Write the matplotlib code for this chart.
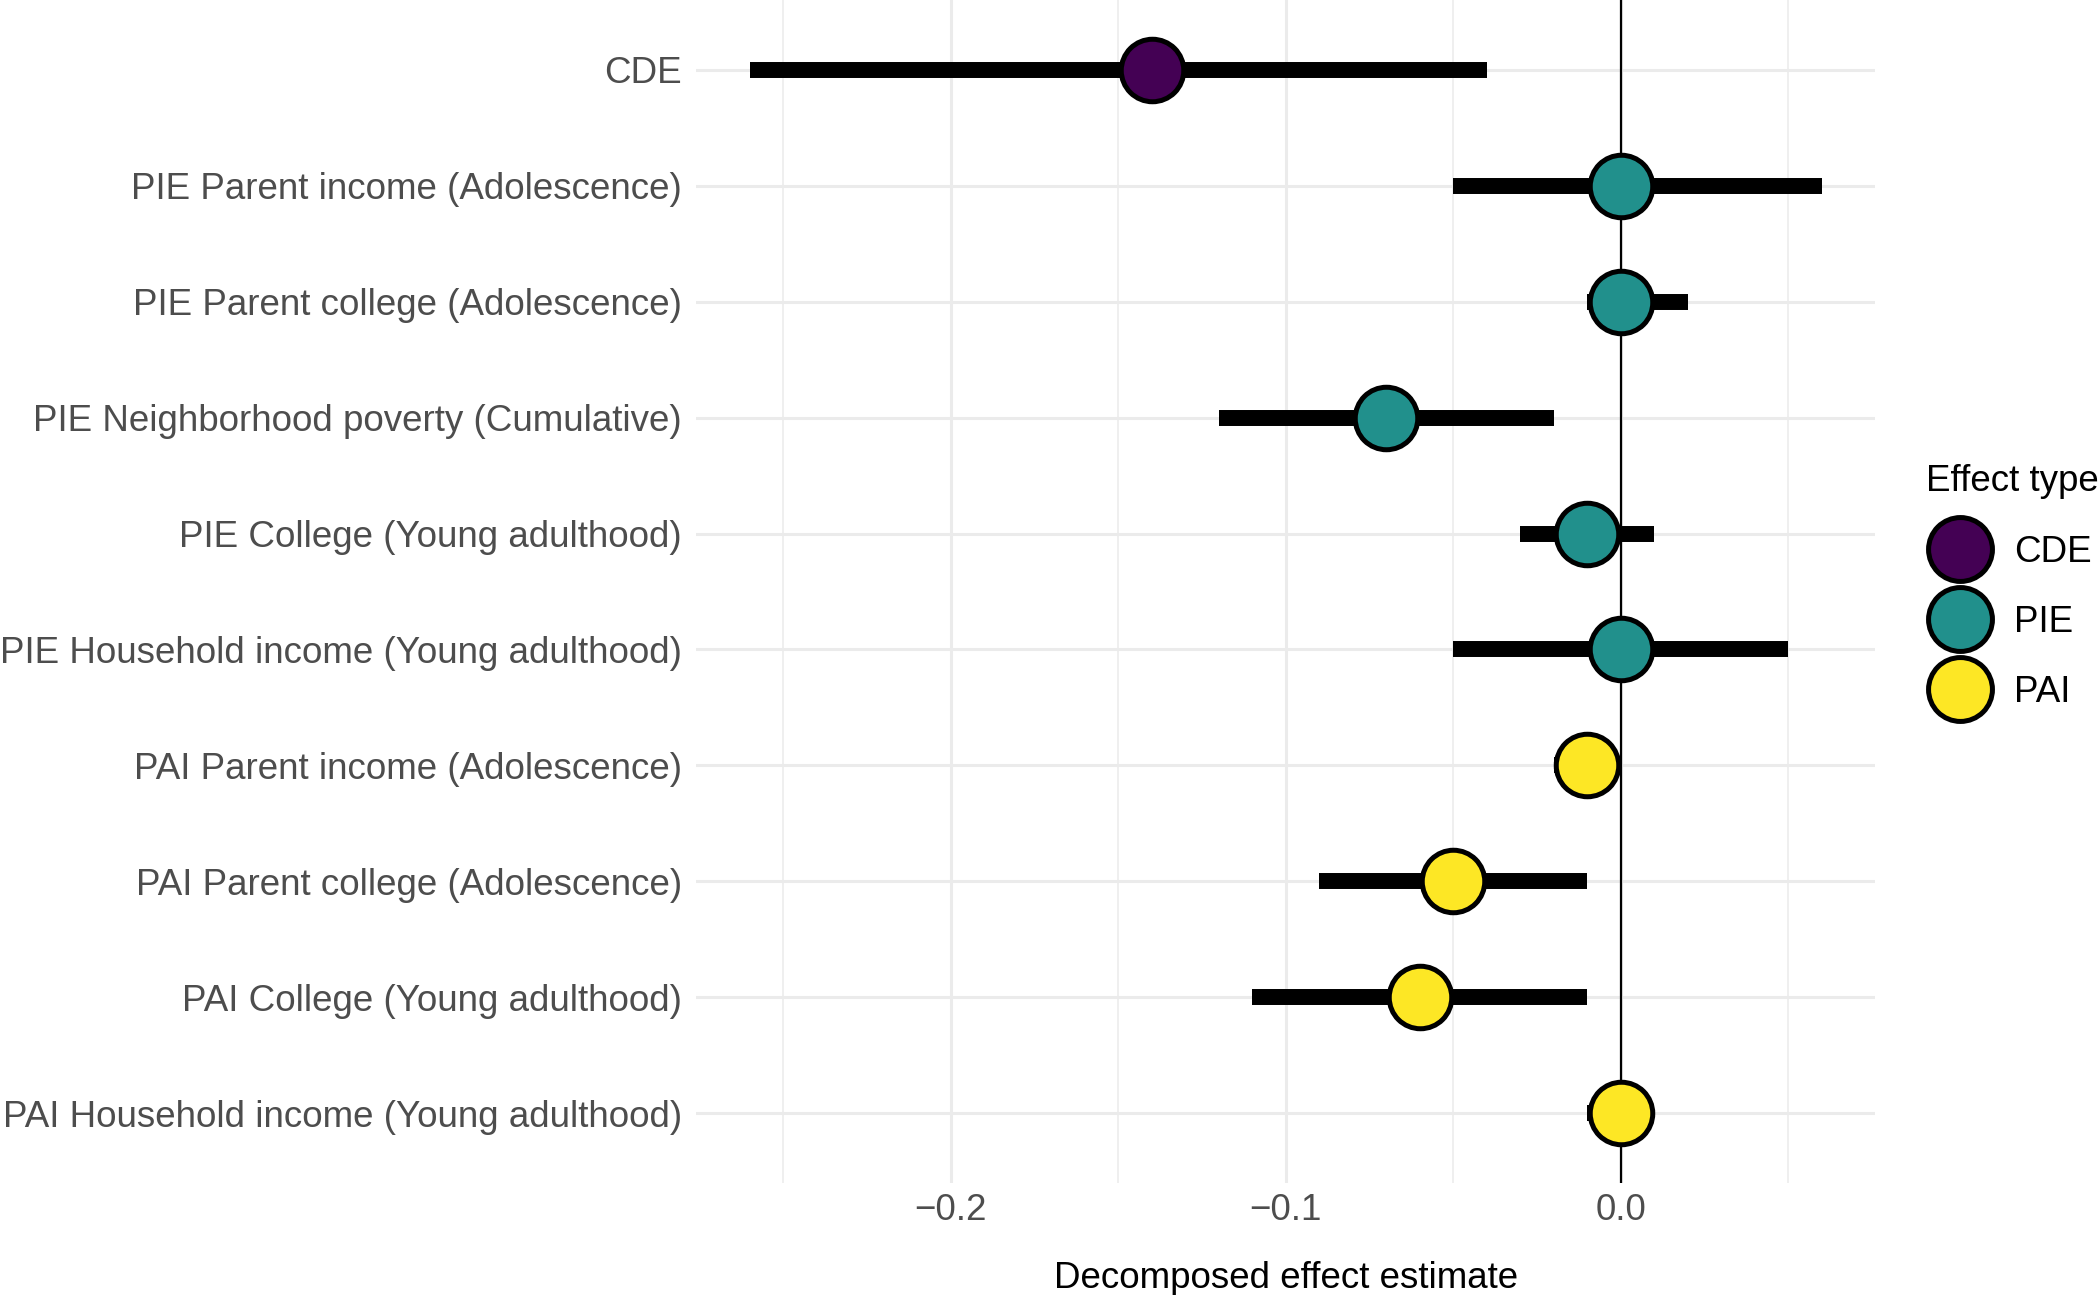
import matplotlib
matplotlib.use("Agg")
import matplotlib.pyplot as plt
from matplotlib.lines import Line2D
import numpy as np

plt.rcParams['font.family'] = ['Liberation Sans', 'DejaVu Sans']

# data, top to bottom as in the chart
labels = [
    "CDE",
    "PIE Parent income (Adolescence)",
    "PIE Parent college (Adolescence)",
    "PIE Neighborhood poverty (Cumulative)",
    "PIE College (Young adulthood)",
    "PIE Household income (Young adulthood)",
    "PAI Parent income (Adolescence)",
    "PAI Parent college (Adolescence)",
    "PAI College (Young adulthood)",
    "PAI Household income (Young adulthood)",
]
effect_type = ["CDE", "PIE", "PIE", "PIE", "PIE", "PIE", "PAI", "PAI", "PAI", "PAI"]
estimate = [-0.14, 0.0, 0.0, -0.07, -0.01, 0.0, -0.01, -0.05, -0.06, 0.0]
ci_low = [-0.26, -0.05, -0.01, -0.12, -0.03, -0.05, -0.02, -0.09, -0.11, -0.01]
ci_high = [-0.04, 0.06, 0.02, -0.02, 0.01, 0.05, 0.0, -0.01, -0.01, 0.01]

type_order = ["CDE", "PIE", "PAI"]
type_colors = {"CDE": "#440154", "PIE": "#21908C", "PAI": "#FDE725"}

fs = 26.5

fig = plt.figure(figsize=(21, 12.95), dpi=100)
ax = fig.add_axes([0.3314, 0.0865, 0.893 - 0.3314, 0.9135])

n = len(labels)
ypos = np.arange(n)[::-1]

# grid (ggplot theme_minimal look)
for x in [-0.25, -0.15, -0.05, 0.05]:
    ax.axvline(x, color='#EBEBEB', lw=1.1, zorder=0)
for x in [-0.2, -0.1, 0.0]:
    ax.axvline(x, color='#EBEBEB', lw=2.2, zorder=0)
for y in ypos:
    ax.axhline(y, color='#EBEBEB', lw=2.2, zorder=0)

ax.axvline(0, color='black', lw=1.6, zorder=1)

for i in range(n):
    ax.hlines(ypos[i], ci_low[i], ci_high[i], color='black', lw=11.5, zorder=2)
    ax.plot(estimate[i], ypos[i], marker='o', markersize=45,
            markerfacecolor=type_colors[effect_type[i]], markeredgecolor='black',
            markeredgewidth=3.6, linestyle='none', zorder=3)

ax.set_xlim(-0.276, 0.076)
ax.set_ylim(-0.6, n - 1 + 0.6)
ax.set_xticks([-0.2, -0.1, 0.0])
ax.set_xticklabels(["\u22120.2", "\u22120.1", "0.0"])
ax.set_yticks(ypos)
ax.set_yticklabels(labels)
ax.tick_params(axis='both', length=0, labelsize=fs, labelcolor='#4D4D4D')
ax.tick_params(axis='y', pad=10)
ax.tick_params(axis='x', pad=7)
for s in ax.spines.values():
    s.set_visible(False)
ax.set_xlabel("Decomposed effect estimate", fontsize=fs, labelpad=24)

handles = [Line2D([0], [0], marker='o', linestyle='none', markersize=46,
                  markerfacecolor=type_colors[t], markeredgecolor='black',
                  markeredgewidth=3.6) for t in type_order]
leg = fig.legend(handles, type_order, title="Effect type", loc='upper left',
                 bbox_to_anchor=(0.917, 0.642), frameon=False, fontsize=fs,
                 title_fontsize=fs, handlelength=1.85, handletextpad=0.55,
                 labelspacing=0.95, borderaxespad=0, borderpad=0)
leg._legend_box.align = "left"
leg._legend_box.sep = 26

fig.savefig("out.png", dpi=100)
